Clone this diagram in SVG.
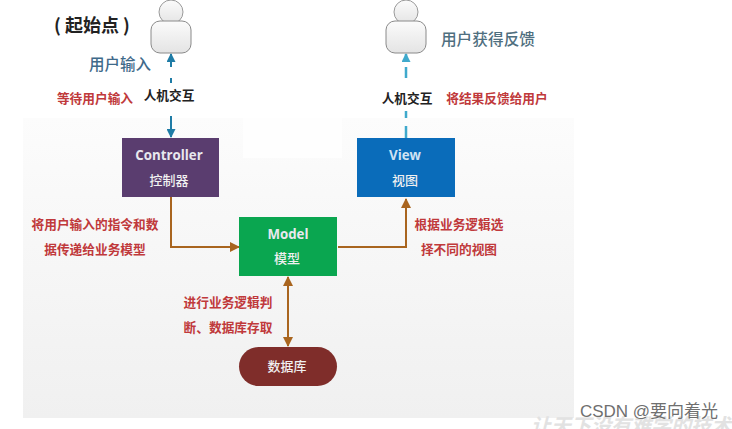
<svg xmlns="http://www.w3.org/2000/svg" width="732" height="429" viewBox="0 0 732 429">
<defs>
<linearGradient id="bg" x1="0" y1="0" x2="0" y2="1"><stop offset="0" stop-color="#fcfcfc"/><stop offset="1" stop-color="#f0f0f0"/></linearGradient>
<linearGradient id="person" x1="0" y1="0" x2="0" y2="1"><stop offset="0" stop-color="#fbfbfb"/><stop offset="1" stop-color="#e4e4e4"/></linearGradient>
<marker id="br" viewBox="0 0 10 10" refX="9" refY="5" markerWidth="10" markerHeight="10" markerUnits="userSpaceOnUse" orient="auto-start-reverse"><path d="M0 0L10 5L0 10Z" fill="#a9651f"/></marker>
<marker id="bl" viewBox="0 0 10 10" refX="9" refY="5" markerWidth="10" markerHeight="9" markerUnits="userSpaceOnUse" orient="auto-start-reverse"><path d="M0 0L10 5L0 10Z" fill="#1f7ca6"/></marker>
<marker id="lb" viewBox="0 0 10 10" refX="9" refY="5" markerWidth="10" markerHeight="9" markerUnits="userSpaceOnUse" orient="auto-start-reverse"><path d="M0 0L10 5L0 10Z" fill="#3fa9cc"/></marker>
<g id="p"><circle cx="0" cy="12" r="12" fill="url(#person)" stroke="#9a9a9a" stroke-width="1"/><rect x="-20" y="21" width="40" height="32" rx="9" fill="url(#person)" stroke="#8a8a8a" stroke-width="1"/></g>
</defs>
<style>
text{font-family:"Noto Sans CJK SC","Liberation Sans",sans-serif;text-anchor:middle}
.r{font-size:12.7px;fill:#c0393b;font-weight:700}
.k{font-size:12.7px;fill:#222;font-weight:700}
.t{font-size:13.3px;fill:#e8e8ee;font-weight:700;font-family:"Open Sans","Noto Sans CJK SC",sans-serif}
.c{font-size:13px;fill:#f0f0f0;font-weight:500}
.b{fill:none;stroke:#a9651f;stroke-width:2}
</style>
<rect width="732" height="429" fill="#fff"/>
<rect x="23" y="118" width="551" height="300" fill="url(#bg)"/>
<rect x="243" y="118" width="99" height="40" fill="#fefefe"/>
<g id="connectors">
<path d="M171 83V78M171 67V54" fill="none" stroke="#1f7ca6" stroke-width="2" marker-end="url(#bl)"/>
<path d="M171 116V137" fill="none" stroke="#1f7ca6" stroke-width="2" marker-end="url(#bl)"/>
<path d="M406 138V54" fill="none" stroke="#3fa9cc" stroke-width="2.5" stroke-dasharray="12 8 7 33 11 5 8 100" marker-end="url(#lb)"/>
<path class="b" d="M171 197V247H239" marker-end="url(#br)"/>
<path class="b" d="M338 247H406V199" marker-end="url(#br)"/>
<path class="b" d="M288 277V346" marker-start="url(#br)" marker-end="url(#br)"/>
</g>
<g id="user-start"><use href="#p" x="171" y="0"/></g>
<g id="user-end"><use href="#p" x="406" y="0"/></g>
<g id="controller"><rect x="122" y="138" width="97" height="59" fill="#5a3d6f"/><text class="t" x="169" y="160">Controller</text><text class="c" x="169" y="185">控制器</text></g>
<g id="view"><rect x="357" y="138" width="98" height="59" fill="#0a6cba"/><text class="t" x="405" y="160" style="fill:#cfe2f3">View</text><text class="c" x="405" y="185">视图</text></g>
<g id="model"><rect x="239" y="217" width="98" height="59" fill="#0aa650"/><text class="t" x="288" y="239">Model</text><text class="c" x="287" y="263">模型</text></g>
<g id="database"><rect x="239" y="347" width="98" height="39" rx="19.5" fill="#7f2d2a"/><text class="c" x="287" y="371">数据库</text></g>
<text x="92" y="32" font-size="18" font-weight="700" fill="#222">( 起始点 )</text>
<text x="120" y="70" font-size="15.5" fill="#3f6a8a" font-weight="500">用户输入</text>
<text x="488" y="45" font-size="15.7" fill="#4f6f7f" font-weight="500">用户获得反馈</text>
<text class="r" x="95" y="103">等待用户输入</text>
<text class="k" x="169" y="100">人机交互</text>
<text class="k" x="407" y="103">人机交互</text>
<text class="r" x="497" y="103">将结果反馈给用户</text>
<text class="r" x="95" y="229">将用户输入的指令和数</text>
<text class="r" x="95" y="254">据传递给业务模型</text>
<text class="r" x="459" y="229">根据业务逻辑选</text>
<text class="r" x="459" y="254">择不同的视图</text>
<text class="r" x="228" y="307">进行业务逻辑判</text>
<text class="r" x="228" y="332">断、数据库存取</text>
<text x="631" y="433" font-size="20" fill="#e2e2e2" font-weight="700" font-style="italic">让天下没有难学的技术</text>
<text x="649" y="417" font-size="17" fill="#6f6f6f" style="font-family:'Liberation Sans','Noto Sans CJK SC',sans-serif">CSDN @要向着光</text>
</svg>
